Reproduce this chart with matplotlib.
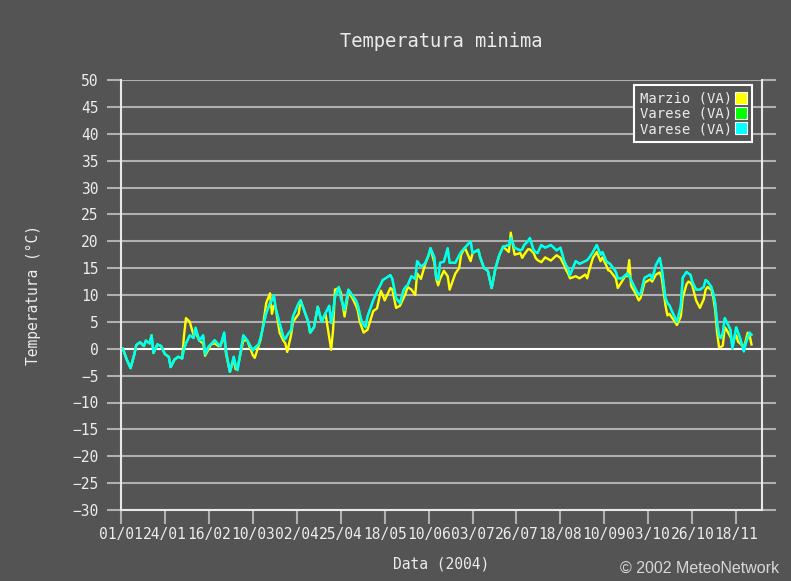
import matplotlib
matplotlib.use("Agg")
import matplotlib.pyplot as plt
from matplotlib.lines import Line2D

# Daily minimum temperature, 2004 (day of year, starting 01/01 = 0)
days = [1, 3, 5, 7, 8, 10, 12, 13, 15, 16, 17, 19, 21, 23, 25, 26, 28, 30, 32, 33,
        34, 36, 38, 39, 41, 43, 44, 46, 47, 49, 51, 52, 54, 55, 57, 59, 60, 61, 64, 66,
        69, 70, 72, 73, 74, 76, 78, 79, 80, 81, 83, 85, 86, 87, 89, 90, 93, 94, 96, 98,
        99, 101, 103, 105, 107, 109, 110, 111, 112, 114, 115, 117, 119, 121, 123, 124, 125, 126, 127, 128,
        129, 132, 134, 136, 137, 138, 141, 142, 144, 146, 148, 149, 150, 152, 154, 155, 157, 159, 161, 162,
        164, 165, 166, 167, 169, 171, 172, 174, 175, 177, 178, 180, 183, 184, 187, 188, 190, 192, 194, 196,
        198, 200, 203, 204, 206, 209, 210, 211, 213, 214, 216, 217, 218, 220, 222, 225, 228, 230, 232, 233,
        234, 235, 238, 240, 243, 244, 245, 247, 249, 251, 252, 254, 255, 256, 259, 260, 262, 264, 265, 266,
        267, 269, 271, 272, 274, 277, 278, 280, 282, 283, 285, 286, 287, 289, 291, 293, 294, 296, 297, 298,
        299, 301, 303, 305, 306, 307, 308, 309, 310, 311, 312, 313, 314, 315, 316, 317, 319, 320, 322, 323,
        324, 326, 327, 328, 329, 330]

varese = [0, -2, -3.6, -1, 0.7, 1.2, 0.5, 1.5, 1.0, 2.5, -0.8, 0.8, 0.5, -1, -1.5, -3.4, -2, -1.5, -1.8, 0,
          1.0, 2.5, 2, 3.9, 1.5, 2.5, -1, 0.5, 0.8, 1.6, 0.8, 0.5, 3, -0.5, -4.3, -1.5, -3.0, -4, 2.5, 1.6,
          -0.3, 0.2, 0.8, 2.0, 3.5, 6.6, 8.5, 9.0, 10, 7.5, 4.8, 2.2, 1.8, 2.5, 3.5, 6, 8.5, 9, 7, 5,
          3, 4, 7.8, 5, 6.6, 8, 4.8, 7, 9.6, 11.5, 9.5, 7.2, 11, 10, 9, 8, 6.5, 5, 4.5, 4,
          6, 9, 10.6, 12, 12.8, 13, 13.7, 13, 9.4, 8.5, 11, 11.5, 11.8, 13.5, 13, 16.3, 15.3, 15.8, 17.4, 18.7,
          17, 13.2, 12.8, 16, 16.2, 18.7, 16, 16, 16, 17.4, 18, 18.8, 20, 17.8, 18.4, 17, 15, 14.5, 11.3, 15,
          17.4, 19, 19.3, 20.6, 18.8, 18.3, 18.5, 19.3, 20, 20.6, 18.3, 18, 17.8, 19.3, 18.8, 19.3, 18.3, 18.8, 16.3, 15.5,
          15, 13.7, 16.3, 15.8, 16.3, 16.5, 16.9, 18, 19.3, 17.5, 18, 16.3, 16, 15.8, 14.3, 13.1, 13.1, 13.7, 14, 13.5,
          12.8, 11.3, 10, 10.3, 13.2, 13.8, 13, 15.6, 16.9, 15, 9.4, 8.5, 8.1, 6.5, 5, 8, 13.2, 14.3, 14, 13.8,
          12.5, 11, 11, 11.5, 12.8, 12.5, 12, 11.5, 10.3, 8.5, 5, 2.5, 2, 3, 5.7, 5, 3.5, 0, 4, 3,
          2, -0.5, 1, 2, 3, 2.6]

marzio = [0, -2, -3.6, -1, 0.7, 1.2, 0.5, 1.5, 1.0, 2.5, -0.8, 0.8, 0.5, -1, -1.5, -3.4, -2, -1.5, -1.8, 2.5,
          5.7, 5.0, 2.5, 3.0, 1.5, 1.0, -1.3, 0.0, 0.8, 1.0, 0.5, 0.5, 2.5, -1.0, -4.3, -2.0, -3.8, -3.5, 1.5, 1.6,
          -1.2, -1.7, 0.5, 1.6, 3.5, 8.5, 10.3, 6.5, 8.0, 7.5, 3.0, 1.5, 1.0, -0.6, 2.5, 5.0, 6.5, 9, 7, 5,
          3, 4, 7.8, 5, 6.6, 2, -0.2, 3.5, 11, 11.3, 10.5, 6, 10.5, 9.5, 8, 7, 5, 4, 3, 3.3,
          3.5, 7, 7.5, 10.8, 10, 9, 11.3, 11, 7.6, 8, 9.5, 10.3, 11.5, 11, 10, 14, 13, 15.5, 17.4, 18.7,
          16, 13, 11.8, 13, 14.5, 13.5, 11, 13, 14, 15, 17.5, 18.8, 16.3, 17.8, 18.4, 17, 15, 14.5, 11.3, 15,
          17.4, 19, 18, 21.6, 17.5, 17.8, 16.9, 17.5, 18.5, 18.5, 17.8, 16.9, 16.5, 16.1, 17, 16.4, 17.4, 16.9, 15.5, 14.6,
          14, 13.1, 13.5, 13.1, 13.8, 13.1, 14.5, 16.9, 18, 16.3, 17, 15.5, 14.6, 14.5, 13.1, 11.3, 12.4, 13.6, 13.5, 16.5,
          11.7, 10.5, 9, 9.5, 12.3, 12.9, 12.5, 13.8, 14.2, 13.2, 8, 6.2, 6.5, 5.5, 4.4, 6, 9.5, 12, 12.5, 12.3,
          11.8, 9, 7.6, 9.2, 11, 11.5, 11.2, 11, 9.5, 7.2, 3, 0.3, 0.3, 0.6, 4, 3.5, 2.2, 1.3, 2.5, 1.3,
          1, 0.3, 1.5, 3, 2.5, 0.8]

# second Varese station sits under the first one
varese_b = list(varese)

tick_days = [0, 23, 46, 69, 92, 115, 138, 161, 184, 207, 230, 253, 276, 299, 322]
tick_labels = ["01/01", "24/01", "16/02", "10/03", "02/04", "25/04", "18/05", "10/06",
               "03/07", "26/07", "18/08", "10/09", "03/10", "26/10", "18/11"]
series_names = ["Marzio (VA)", "Varese (VA)", "Varese (VA)"]
series_colors = ["#ffff00", "#00ff00", "#00ffff"]

bg = "#545454"
grid_c = "#b0b0b0"
txt_c = "#ececec"
mono = "DejaVu Sans Mono"

fig = plt.figure(figsize=(7.91, 5.81), dpi=100)
fig.patch.set_facecolor(bg)
ax = fig.add_axes([121 / 791, 71 / 581, 641 / 791, 430 / 581])
ax.set_facecolor(bg)

ax.set_xlim(0, 335.5)
ax.set_ylim(-30, 50)

# horizontal grid, zero line in white
for v in range(-30, 51, 5):
    ax.axhline(v, color="white" if v == 0 else grid_c, lw=1.5, zorder=1)

ax.plot(days, marzio, color=series_colors[0], lw=1.7, zorder=3)
ax.plot(days, varese_b, color=series_colors[1], lw=1.7, zorder=4)
ax.plot(days, varese, color=series_colors[2], lw=1.7, zorder=5)

ax.spines["top"].set_visible(False)
for s in ["left", "right", "bottom"]:
    ax.spines[s].set_color("#e8e8e8")
    ax.spines[s].set_linewidth(1.5)

ax.set_yticks(range(-30, 51, 5))
ax.set_xticks(tick_days)
ax.set_xticklabels(tick_labels)
ax.tick_params(axis="y", left=True, right=True, direction="out", length=10,
               width=1.5, color=grid_c, labelcolor=txt_c, pad=6)
ax.tick_params(axis="x", direction="out", length=10, width=1.5, color=grid_c,
               labelcolor=txt_c, pad=2)
for lab in ax.get_xticklabels() + ax.get_yticklabels():
    lab.set_fontfamily(mono)
    lab.set_fontsize(10.5)

ax.set_title("Temperatura minima", fontfamily=mono, fontsize=13.5, color=txt_c, pad=24)
ax.set_xlabel("Data (2004)", fontfamily=mono, fontsize=10.5, color=txt_c, labelpad=11)
ax.set_ylabel("Temperatura (°C)", fontfamily=mono, fontsize=10.5, color=txt_c, labelpad=23)

handles = [Line2D([], [], marker="s", ls="none", markersize=9, color=c,
                  markeredgecolor="white", markeredgewidth=0.8) for c in series_colors]
leg = ax.legend(handles, series_names, loc="upper right", bbox_to_anchor=(0.985, 0.988),
                markerfirst=False, frameon=True, fancybox=False, framealpha=1,
                facecolor=bg, edgecolor="white", handlelength=0.8, handletextpad=0.2,
                labelspacing=0.1, borderpad=0.45, borderaxespad=0,
                prop={"family": mono, "size": 10})
leg.get_frame().set_linewidth(1.5)
for t in leg.get_texts():
    t.set_color(txt_c)
leg.set_zorder(10)

fig.text(0.985, 0.008, "© 2002 MeteoNetwork", ha="right", va="bottom",
         fontfamily="Liberation Sans", fontsize=11.5, color="#d8d8d8")

fig.savefig("out.png", dpi=100, facecolor=bg)
